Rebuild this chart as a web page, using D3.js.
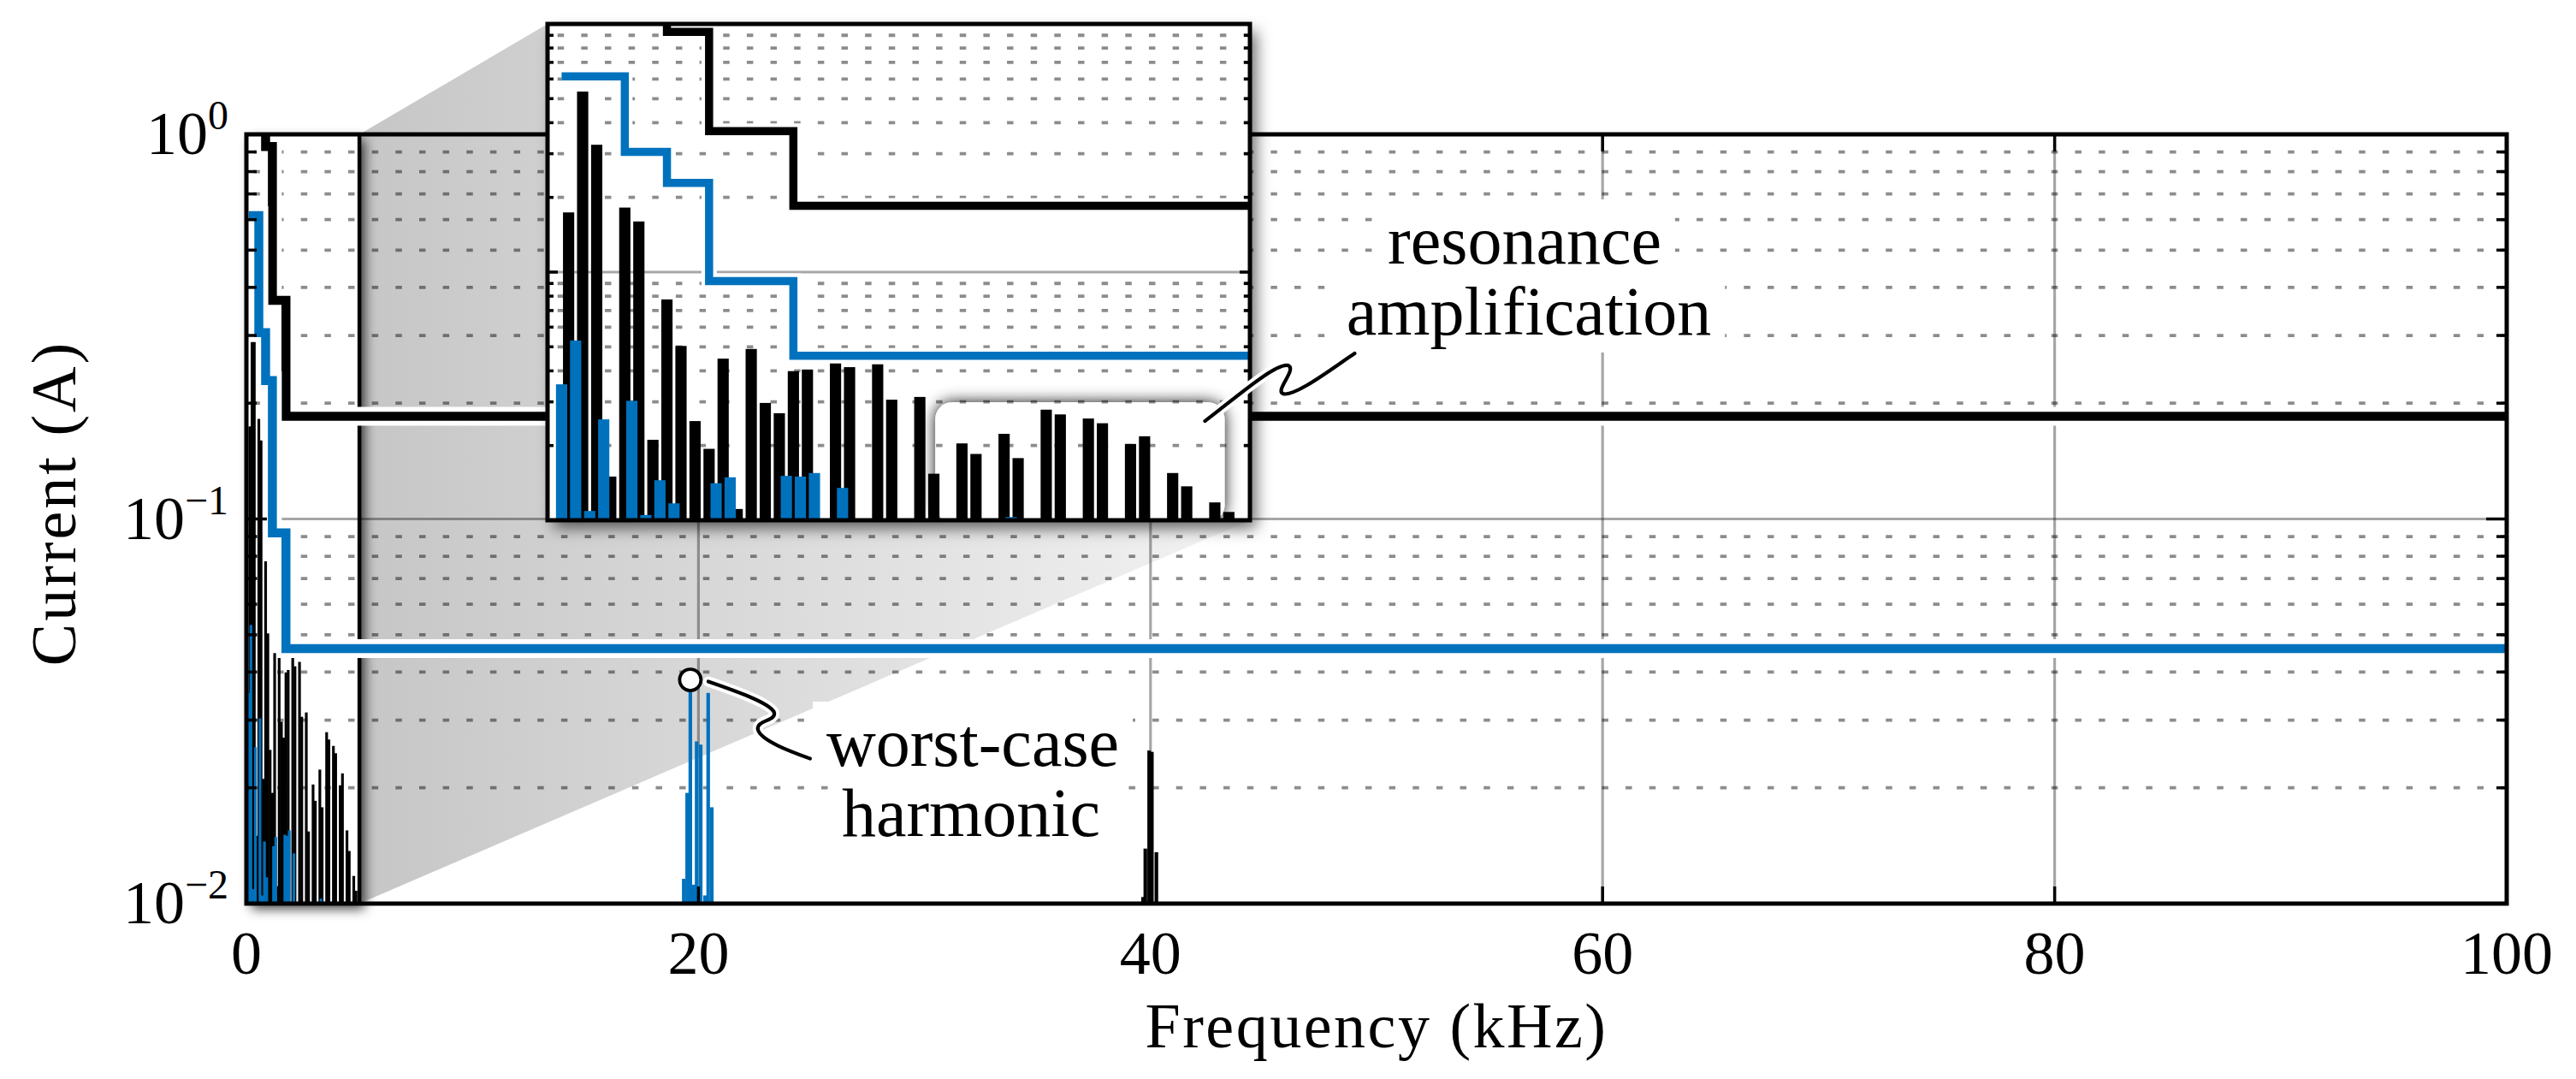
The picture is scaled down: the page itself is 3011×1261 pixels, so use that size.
<!DOCTYPE html>
<html>
<head>
<meta charset="utf-8">
<script src="https://cdn.jsdelivr.net/npm/d3@7"></script>
<style>
  html, body { margin: 0; padding: 0; background: #fff; }
  svg { display: block; }
  text { font-family: "Liberation Serif", "Times New Roman", serif; fill: #000; }
</style>
</head>
<body>
<div id="chart"></div>
<script>
// ---- data (frequencies in kHz, currents in A) ----
// low order harmonics, black spectrum (odd multiples of 50 Hz)
var blackHarmKHz = [0.15, 0.25, 0.35, 0.45, 0.55, 0.65, 0.75, 0.85, 0.95, 1.05, 1.15, 1.25,
                    1.35, 1.45, 1.55, 1.65, 1.75, 1.85, 1.95, 2.05, 2.15, 2.25, 2.35, 2.45,
                    2.55, 2.65, 2.75, 2.85, 2.95, 3.05, 3.15, 3.25, 3.35, 3.45, 3.55, 3.65,
                    3.75, 3.85, 3.95, 4.05, 4.15, 4.25, 4.35, 4.45, 4.55, 4.65, 4.75, 4.85];
var blackHarmAmp = [0.174, 0.534, 0.326, 0.0150, 0.182, 0.160, 0.0211, 0.0776, 0.0504, 0.0251, 0.0194, 0.0448,
                    0.0111, 0.0490, 0.0297, 0.0270, 0.0399, 0.0405, 0, 0.0473, 0.0414, 0, 0.0425, 0.0306,
                    0, 0.0314, 0.0154, 0, 0.0204, 0.0185, 0, 0.0223, 0.0178, 0, 0.0279, 0.0267,
                    0, 0.0257, 0.0246, 0, 0.0203, 0.0218, 0, 0.0155, 0.0137, 0, 0.0118, 0.0108];
// low order harmonics, blue spectrum
var blueHarmKHz = [0.1, 0.2, 0.3, 0.4, 0.6, 0.7, 0.8, 0.9, 1.2, 1.3, 1.7, 1.8, 1.9, 2.1, 3.3];
var blueHarmAmp = [0.0353, 0.0530, 0.0109, 0.0255, 0.0303, 0.0105, 0.0145, 0.0117, 0.0141, 0.0149,
                   0.0151, 0.0150, 0.0155, 0.0135, 0.0103];
// switching sidebands
var blueSwKHz = [19.35, 19.50, 19.64, 19.80, 19.92, 20.10, 20.29, 20.43, 20.59];
var blueSwAmp = [0.0116, 0.0194, 0.0358, 0.0112, 0.0264, 0.0259, 0.0105, 0.0353, 0.0178];
var blackSwKHz = [39.67, 39.77, 39.94, 40.06, 40.26];
var blackSwAmp = [0.0104, 0.0139, 0.0250, 0.0248, 0.0136];
// step limits
var limitKHz = [0.1, 0.55, 0.85, 1.15, 1.75, 100];
var blackLimit = [2.5, 1.25, 0.93, 0.37, 0.185, 0.185];
var blueLimit = [0.615, 0.305, 0.229, 0.092, 0.046, 0.046];
// axes
var xTicks = [0, 20, 40, 60, 80, 100];
var yTickExp = [0, -1, -2];
var zoomKHz = 5;                 // magnified range 0..5 kHz
var highlightKHz = [2.76, 4.82]; // rounded box inside the inset
var highlightTop = 0.0299;

// ---- layout ----
var W = 3011, H = 1261;
var plotL = 288, plotR = 2930, plotT = 157, plotB = 1056;
var insL = 640, insR = 1461, insT = 28, insB = 608;
var BLUE = "#0072bd";

var x = d3.scaleLinear().domain([0, 100]).range([plotL, plotR]);
var y = d3.scaleLog().domain([0.01, 1]).range([plotB, plotT]);
var xi = d3.scaleLinear().domain([0, zoomKHz]).range([insL, insR]);
var yi = d3.scaleLog().domain([0.01, 1]).range([insB, insT]);

var svg = d3.select("#chart").append("svg")
    .attr("width", W).attr("height", H);
var defs = svg.append("defs");

var grad = defs.append("linearGradient").attr("id", "projGrad")
    .attr("gradientUnits", "userSpaceOnUse")
    .attr("x1", x(zoomKHz)).attr("x2", insR).attr("y1", 0).attr("y2", 0);
grad.append("stop").attr("offset", 0).attr("stop-color", "#c6c6c6");
grad.append("stop").attr("offset", 1).attr("stop-color", "#f3f3f3");

function shadow(id, dx, dy, sd, op) {
    defs.append("filter").attr("id", id)
        .attr("x", "-60%").attr("y", "-60%").attr("width", "220%").attr("height", "220%")
        .append("feDropShadow")
        .attr("dx", dx).attr("dy", dy).attr("stdDeviation", sd)
        .attr("flood-color", "#000").attr("flood-opacity", op);
}
shadow("boxShadow", 6, 6, 7, 0.75);
shadow("insetShadow", 7, 9, 9, 0.6);
shadow("glow", 0, 0, 9, 0.95);

defs.append("clipPath").attr("id", "clipMain").append("rect")
    .attr("x", plotL).attr("y", plotT).attr("width", plotR - plotL).attr("height", plotB - plotT);
defs.append("clipPath").attr("id", "clipInset").append("rect")
    .attr("x", insL).attr("y", insT).attr("width", insR - insL).attr("height", insB - insT);

svg.append("rect").attr("width", W).attr("height", H).attr("fill", "#fff");

// helpers
function isDecade(v) {
    var l = Math.log10(v);
    return Math.abs(l - Math.round(l)) < 1e-6;
}

function drawGrid(g, xs, ys, dashStart, vertical) {
    var L = xs.range()[0], R = xs.range()[1];
    var minor = ys.ticks().filter(function (v) { return !isDecade(v); });
    var major = ys.ticks().filter(function (v) { return isDecade(v) && v > ys.domain()[0] && v < ys.domain()[1]; });
    g.selectAll(null).data(minor).enter().append("line")
        .attr("x1", L).attr("x2", R)
        .attr("y1", function (d) { return ys(d); }).attr("y2", function (d) { return ys(d); })
        .attr("stroke", "#000").attr("stroke-opacity", 0.45).attr("stroke-width", 3.8)
        .attr("stroke-dasharray", "7.5 20.15").attr("stroke-dashoffset", 27.65 - dashStart);
    g.selectAll(null).data(major).enter().append("line")
        .attr("x1", L).attr("x2", R)
        .attr("y1", function (d) { return ys(d); }).attr("y2", function (d) { return ys(d); })
        .attr("stroke", "#000").attr("stroke-opacity", 0.35).attr("stroke-width", 3.2);
    if (vertical) {
        g.selectAll(null).data(vertical).enter().append("line")
            .attr("x1", function (d) { return xs(d); }).attr("x2", function (d) { return xs(d); })
            .attr("y1", ys.range()[1]).attr("y2", ys.range()[0])
            .attr("stroke", "#000").attr("stroke-opacity", 0.35).attr("stroke-width", 3.2);
    }
}

function drawBars(g, xs, ys, freqs, amps, w, color) {
    var data = freqs.map(function (f, i) { return { f: f, v: amps[i] }; })
        .filter(function (d) { return d.v > ys.domain()[0]; });
    g.selectAll(null).data(data).enter().append("rect")
        .attr("x", function (d) { return xs(d.f - w / 2); })
        .attr("width", function (d) { return xs(d.f + w / 2) - xs(d.f - w / 2); })
        .attr("y", function (d) { return ys(d.v); })
        .attr("height", function (d) { return ys.range()[0] - ys(d.v); })
        .attr("fill", color);
}

function drawLimit(g, xs, ys, vals, color, w, halo) {
    var line = d3.line()
        .x(function (d) { return xs(d[0]); })
        .y(function (d) { return ys(d[1]); })
        .curve(d3.curveStepAfter);
    var pts = limitKHz.map(function (f, i) { return [f, vals[i]]; });
    g.append("path").attr("d", line(pts)).attr("fill", "none")
        .attr("stroke", "#fff").attr("stroke-width", halo).attr("stroke-linejoin", "miter");
    g.append("path").attr("d", line(pts)).attr("fill", "none")
        .attr("stroke", color).attr("stroke-width", w).attr("stroke-linejoin", "miter");
}

function drawYTicks(g, ys, L, R, majLen, minLen) {
    ys.ticks().forEach(function (v) {
        var len = isDecade(v) ? majLen : minLen;
        g.append("line").attr("x1", L).attr("x2", L + len).attr("y1", ys(v)).attr("y2", ys(v))
            .attr("stroke", "#000").attr("stroke-width", 3.5);
        g.append("line").attr("x1", R - len).attr("x2", R).attr("y1", ys(v)).attr("y2", ys(v))
            .attr("stroke", "#000").attr("stroke-width", 3.5);
    });
}

// ---- projection of the magnified range onto the inset ----
svg.append("polygon")
    .attr("points", [[x(zoomKHz), plotT], [insL, insT], [insR, insB], [x(zoomKHz), plotB]].join(" "))
    .attr("fill", "url(#projGrad)");

// magnified range drawn as a raised white card
svg.append("rect")
    .attr("x", plotL).attr("y", plotT)
    .attr("width", x(zoomKHz) - plotL).attr("height", plotB - plotT)
    .attr("fill", "#fff").attr("filter", "url(#boxShadow)");

// ---- main axes ----
var main = svg.append("g");
drawGrid(main, x, y, 8.4, xTicks.slice(1, -1));

var mainBars = main.append("g").attr("clip-path", "url(#clipMain)");
drawBars(mainBars, x, y, blackHarmKHz, blackHarmAmp, 0.12, "#000");
drawBars(mainBars, x, y, blackSwKHz, blackSwAmp, 0.16, "#000");
drawBars(mainBars, x, y, blueHarmKHz, blueHarmAmp, 0.12, BLUE);
drawBars(mainBars, x, y, blueSwKHz, blueSwAmp, 0.16, BLUE);

// edge of the magnified range
main.append("line")
    .attr("x1", x(zoomKHz)).attr("x2", x(zoomKHz)).attr("y1", plotT).attr("y2", plotB)
    .attr("stroke", "#000").attr("stroke-width", 4.5);

var mainLines = main.append("g").attr("clip-path", "url(#clipMain)");
drawLimit(mainLines, x, y, blackLimit, "#000", 10.5, 22);
drawLimit(mainLines, x, y, blueLimit, BLUE, 10.5, 22);

// frame and ticks
main.append("rect")
    .attr("x", plotL).attr("y", plotT).attr("width", plotR - plotL).attr("height", plotB - plotT)
    .attr("fill", "none").attr("stroke", "#000").attr("stroke-width", 5);
drawYTicks(main, y, plotL, plotR, 24, 12);
xTicks.forEach(function (t) {
    main.append("line").attr("x1", x(t)).attr("x2", x(t)).attr("y1", plotB).attr("y2", plotB - 20)
        .attr("stroke", "#000").attr("stroke-width", 3.5);
    main.append("line").attr("x1", x(t)).attr("x2", x(t)).attr("y1", plotT).attr("y2", plotT + 20)
        .attr("stroke", "#000").attr("stroke-width", 3.5);
});

// tick labels
svg.selectAll(".xlab").data(xTicks).enter().append("text")
    .attr("x", function (d) { return x(d); }).attr("y", 1138)
    .attr("text-anchor", "middle").attr("font-size", 72)
    .text(function (d) { return d; });

svg.selectAll(".ylab").data(yTickExp).enter().append("text")
    .attr("x", 267).attr("y", function (d) { return y(Math.pow(10, d)) + 23; })
    .attr("text-anchor", "end").attr("font-size", 72)
    .each(function (d) {
        var t = d3.select(this);
        t.append("tspan").text("10");
        t.append("tspan").attr("font-size", 48).attr("dy", -29)
            .text(d === 0 ? "0" : "\u2212" + (-d));
    });

// axis titles
svg.append("text")
    .attr("x", (plotL + plotR) / 2).attr("y", 1224)
    .attr("text-anchor", "middle").attr("font-size", 74).attr("letter-spacing", 2.5)
    .text("Frequency (kHz)");
svg.append("text")
    .attr("transform", "translate(88," + 588 + ") rotate(-90)")
    .attr("text-anchor", "middle").attr("font-size", 74).attr("letter-spacing", 3)
    .text("Current (A)");

// text with a white plate behind every line
function plateText(lines, cx, baselines, size) {
    var g = svg.append("g");
    lines.forEach(function (s, i) {
        var t = g.append("text").attr("x", cx[i]).attr("y", baselines[i])
            .attr("text-anchor", "middle").attr("font-size", size).text(s);
        var b = t.node().getBBox();
        g.insert("rect", "text")
            .attr("x", b.x - 16).attr("y", b.y - 4).attr("width", b.width + 32).attr("height", b.height + 8)
            .attr("fill", "#fff");
    });
}

function leader(d) {
    svg.append("path").attr("d", d).attr("fill", "none")
        .attr("stroke", "#fff").attr("stroke-width", 12).attr("stroke-linecap", "round");
    svg.append("path").attr("d", d).attr("fill", "none")
        .attr("stroke", "#000").attr("stroke-width", 4.2).attr("stroke-linecap", "round");
}

// ---- worst-case harmonic marker ----
var wi = d3.maxIndex(blueSwAmp);
var cr = 12.5;
var cx = x(blueSwKHz[wi]), cy = y(blueSwAmp[wi]) - cr;
plateText(["worst-case", "harmonic"], [1137, 1135], [895, 977], 80);
leader("M" + (cx + 21) + "," + (cy + 2) +
    " C" + (cx + 53) + "," + (cy + 13) + " " + (cx + 93) + "," + (cy + 27) + " " + (cx + 98) + "," + (cy + 38) +
    " C" + (cx + 101) + "," + (cy + 48) + " " + (cx + 77) + "," + (cy + 47) + " " + (cx + 79) + "," + (cy + 58) +
    " C" + (cx + 82) + "," + (cy + 71) + " " + (cx + 118) + "," + (cy + 84) + " " + (cx + 140) + "," + (cy + 92));
svg.append("circle").attr("cx", cx).attr("cy", cy).attr("r", cr)
    .attr("fill", "#fff").attr("stroke", "#000").attr("stroke-width", 3.8);

// ---- inset ----
var inset = svg.append("g");
inset.append("rect")
    .attr("x", insL).attr("y", insT).attr("width", insR - insL).attr("height", insB - insT)
    .attr("fill", "#fff").attr("filter", "url(#insetShadow)");

var insClip = inset.append("g").attr("clip-path", "url(#clipInset)");
var hx0 = xi(highlightKHz[0]), hx1 = xi(highlightKHz[1]), hy = yi(highlightTop);
insClip.append("rect")
    .attr("x", hx0).attr("y", hy).attr("width", hx1 - hx0).attr("height", insB - hy + 2)
    .attr("rx", 20).attr("ry", 20)
    .attr("fill", "#fff").attr("filter", "url(#glow)");

drawGrid(insClip, xi, yi, 11.7, null);
drawBars(insClip, xi, yi, blackHarmKHz, blackHarmAmp, 0.08, "#000");
drawBars(insClip, xi, yi, blueHarmKHz, blueHarmAmp, 0.08, BLUE);
drawLimit(insClip, xi, yi, blackLimit, "#000", 9.5, 18);
drawLimit(insClip, xi, yi, blueLimit, BLUE, 9.5, 18);

inset.append("rect")
    .attr("x", insL).attr("y", insT).attr("width", insR - insL).attr("height", insB - insT)
    .attr("fill", "none").attr("stroke", "#000").attr("stroke-width", 5);
drawYTicks(inset, yi, insL, insR, 12, 7);

// ---- resonance annotation ----
plateText(["resonance", "amplification"], [1782, 1787], [308, 391], 80);
var rx = hx1, ry = hy;
leader("M" + (rx - 23) + "," + (ry + 22) +
    " C" + (rx + 9) + "," + (ry - 2) + " " + (rx + 59) + "," + (ry - 46) + " " + (rx + 74) + "," + (ry - 43) +
    " C" + (rx + 85) + "," + (ry - 39) + " " + (rx + 59) + "," + (ry - 14) + " " + (rx + 68) + "," + (ry - 10) +
    " C" + (rx + 81) + "," + (ry - 5) + " " + (rx + 129) + "," + (ry - 42) + " " + (rx + 152) + "," + (ry - 57));
</script>
</body>
</html>
